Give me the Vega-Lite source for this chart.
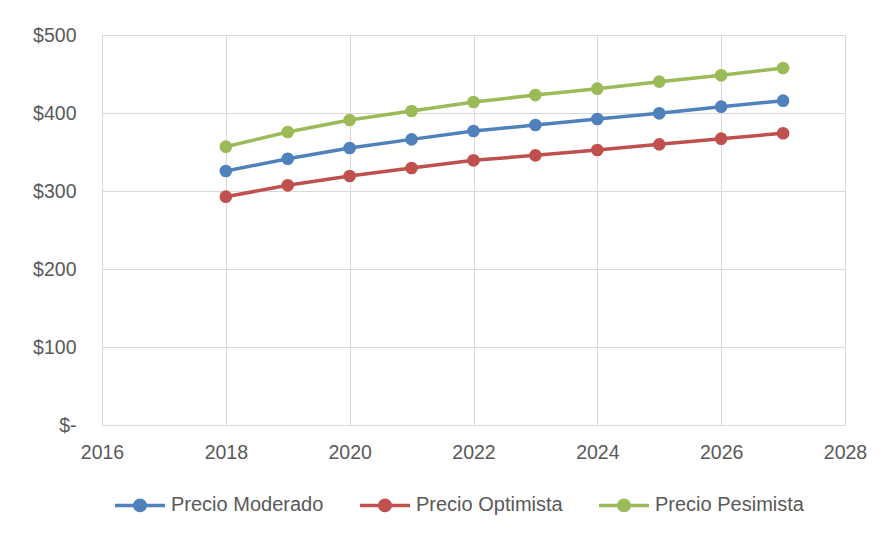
{
  "$schema": "https://vega.github.io/schema/vega-lite/v6.json",
  "autosize": {"type": "none"},
  "padding": {"left": 102, "top": 35, "right": 34, "bottom": 108},
  "width": 743,
  "height": 390,
  "background": "white",
  "config": {
    "font": "Liberation Sans",
    "view": {"stroke": "#d9d9d9", "strokeWidth": 1},
    "axis": {
      "labelFont": "Liberation Sans",
      "labelFontSize": 19.5,
      "labelColor": "#595959",
      "domain": false,
      "ticks": false,
      "grid": true,
      "gridColor": "#d9d9d9",
      "gridWidth": 1,
      "title": null
    }
  },
  "data": {
    "values": [
      {"year": 2018, "serie": "Precio Moderado", "precio": 325.6},
      {"year": 2019, "serie": "Precio Moderado", "precio": 341.4},
      {"year": 2020, "serie": "Precio Moderado", "precio": 355.1},
      {"year": 2021, "serie": "Precio Moderado", "precio": 366.2},
      {"year": 2022, "serie": "Precio Moderado", "precio": 376.9},
      {"year": 2023, "serie": "Precio Moderado", "precio": 384.6},
      {"year": 2024, "serie": "Precio Moderado", "precio": 392.3},
      {"year": 2025, "serie": "Precio Moderado", "precio": 399.6},
      {"year": 2026, "serie": "Precio Moderado", "precio": 408.1},
      {"year": 2027, "serie": "Precio Moderado", "precio": 415.8},
      {"year": 2018, "serie": "Precio Optimista", "precio": 292.7},
      {"year": 2019, "serie": "Precio Optimista", "precio": 307.3},
      {"year": 2020, "serie": "Precio Optimista", "precio": 319.2},
      {"year": 2021, "serie": "Precio Optimista", "precio": 329.5},
      {"year": 2022, "serie": "Precio Optimista", "precio": 339.3},
      {"year": 2023, "serie": "Precio Optimista", "precio": 345.7},
      {"year": 2024, "serie": "Precio Optimista", "precio": 352.6},
      {"year": 2025, "serie": "Precio Optimista", "precio": 359.8},
      {"year": 2026, "serie": "Precio Optimista", "precio": 367.1},
      {"year": 2027, "serie": "Precio Optimista", "precio": 374.0},
      {"year": 2018, "serie": "Precio Pesimista", "precio": 356.8},
      {"year": 2019, "serie": "Precio Pesimista", "precio": 375.6},
      {"year": 2020, "serie": "Precio Pesimista", "precio": 391.0},
      {"year": 2021, "serie": "Precio Pesimista", "precio": 402.6},
      {"year": 2022, "serie": "Precio Pesimista", "precio": 414.1},
      {"year": 2023, "serie": "Precio Pesimista", "precio": 423.0},
      {"year": 2024, "serie": "Precio Pesimista", "precio": 431.2},
      {"year": 2025, "serie": "Precio Pesimista", "precio": 440.2},
      {"year": 2026, "serie": "Precio Pesimista", "precio": 448.3},
      {"year": 2027, "serie": "Precio Pesimista", "precio": 457.7}
    ]
  },
  "encoding": {
    "x": {
      "field": "year",
      "type": "quantitative",
      "scale": {"domain": [2016, 2028], "nice": false, "zero": false},
      "axis": {"values": [2016, 2018, 2020, 2022, 2024, 2026, 2028], "format": "d", "labelPadding": 18, "labelFlush": false}
    },
    "y": {
      "field": "precio",
      "type": "quantitative",
      "scale": {"domain": [0, 500], "nice": false},
      "axis": {"values": [0, 100, 200, 300, 400, 500], "labelExpr": "datum.value == 0 ? '$-' : '$' + datum.value", "labelPadding": 26}
    },
    "color": {
      "field": "serie",
      "type": "nominal",
      "scale": {
        "domain": ["Precio Moderado", "Precio Optimista", "Precio Pesimista"],
        "range": ["#4f81bd", "#c0504d", "#9bbb59"]
      },
      "legend": {
        "title": null,
        "orient": "none",
        "direction": "horizontal",
        "legendX": 11,
        "legendY": 443,
        "padding": 0,
        "columnPadding": 29,
        "labelOffset": 4,
        "labelFont": "Liberation Sans",
        "labelFontSize": 20,
        "labelColor": "#595959",
        "symbolType": "M-1,0L1,0M-0.21,0A0.21,0.21,0,1,1,0.21,0A0.21,0.21,0,1,1,-0.21,0Z",
        "symbolSize": 2500,
        "symbolStrokeWidth": 3.5,
        "symbolOpacity": 1
      }
    }
  },
  "layer": [
    {"mark": {"type": "line", "strokeWidth": 3.5}},
    {"mark": {"type": "point", "filled": true, "size": 160, "opacity": 1}}
  ]
}
